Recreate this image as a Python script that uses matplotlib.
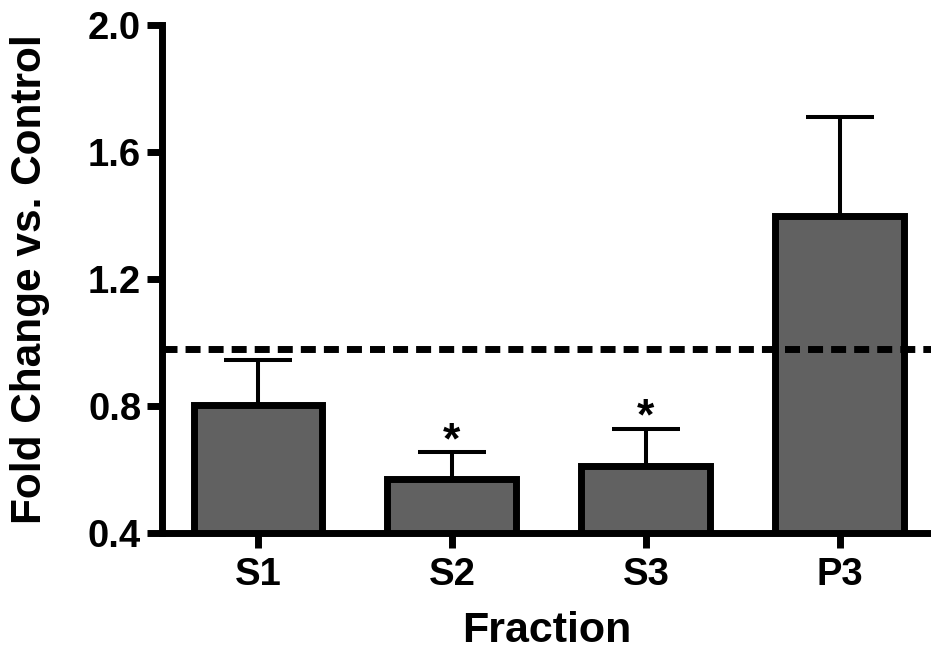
import numpy as np
import matplotlib
matplotlib.use('Agg')
import matplotlib.pyplot as plt

plt.rcParams['font.family'] = ['Liberation Sans', 'DejaVu Sans']
plt.rcParams['font.weight'] = 'bold'
plt.rcParams['lines.scale_dashes'] = False

# values
fractions = ['S1', 'S2', 'S3', 'P3']
fold_change = [0.802, 0.571, 0.611, 1.397]
sem = [0.143, 0.083, 0.117, 0.314]
significant = [False, True, True, False]
reference_level = 0.98
y_ticks = [0.4, 0.8, 1.2, 1.6, 2.0]

y_base = 0.4
x = np.arange(len(fractions))

fig = plt.figure(figsize=(9.31, 6.51), dpi=100)
ax = fig.add_axes([0.174, 0.181, 0.826, 0.781])

heights = [v - y_base for v in fold_change]
ax.bar(x, heights, bottom=y_base, width=0.665, color='#616161',
       edgecolor='black', linewidth=5, zorder=3)
ax.errorbar(x, fold_change, yerr=[np.zeros(len(sem)), sem], fmt='none',
            ecolor='black', elinewidth=2.9, capsize=24.8, capthick=2.9, zorder=2)

# significance markers
for xi, v, e, sig in zip(x, fold_change, sem, significant):
    if sig:
        ax.annotate('*', (xi, v + e), xytext=(0, -7), textcoords='offset points',
                    ha='center', va='bottom', fontsize=32, fontweight='bold')

ax.axhline(reference_level, color='black', linewidth=5, dashes=(10.8, 5.8), zorder=4)

ax.set_xlim(-0.495, 3.47)
ax.set_ylim(0.4, 2.0)
ax.set_yticks(y_ticks)
ax.set_yticklabels([f'{t:.1f}' for t in y_ticks])
ax.set_xticks(x)
ax.set_xticklabels(fractions)

for side in ['top', 'right']:
    ax.spines[side].set_visible(False)
for side in ['left', 'bottom']:
    ax.spines[side].set_linewidth(5)

ax.tick_params(axis='both', length=11, width=5, labelsize=27.5)
ax.tick_params(axis='y', pad=4)
ax.tick_params(axis='x', pad=6)
ax.set_xlabel('Fraction', fontsize=31, fontweight='bold', labelpad=13)
ax.set_ylabel('Fold Change vs. Control', fontsize=30.5, fontweight='bold', labelpad=27)

fig.savefig('out.png', dpi=100)
